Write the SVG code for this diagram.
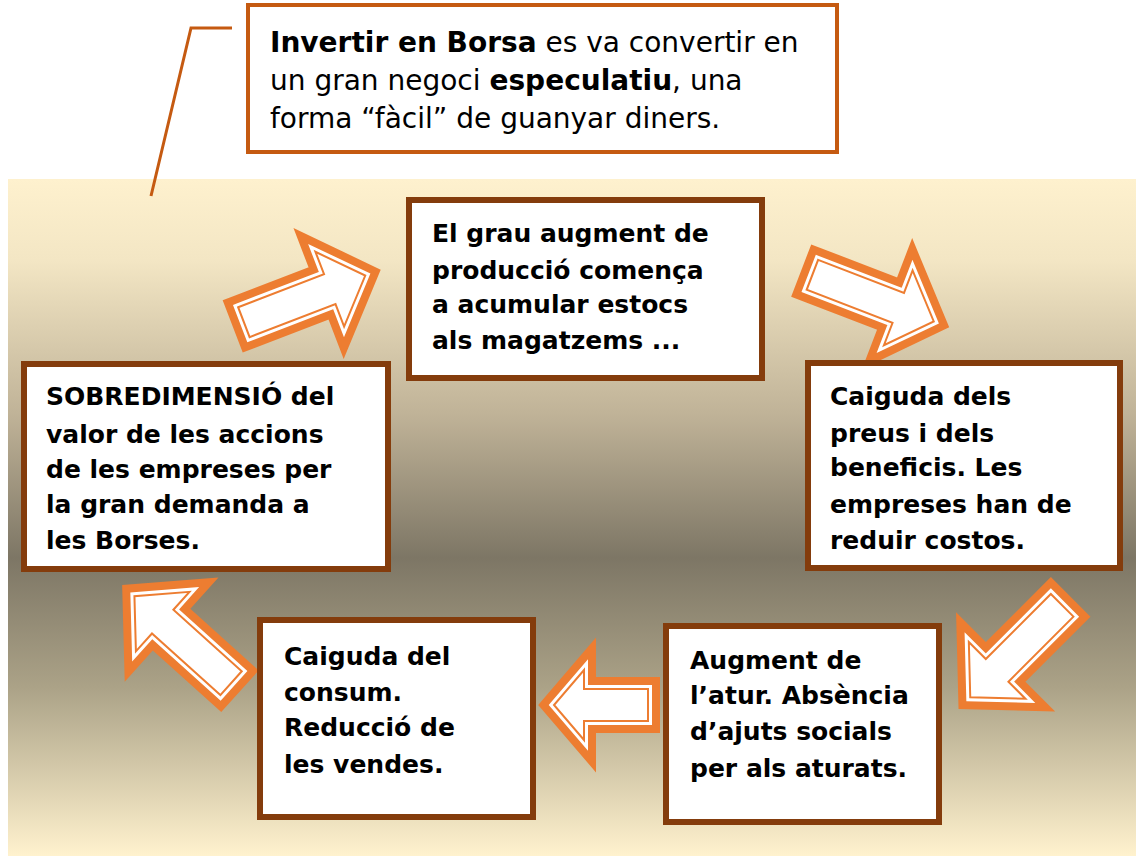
<svg xmlns="http://www.w3.org/2000/svg" width="1136" height="856" viewBox="0 0 1136 856">
  <defs>
    <linearGradient id="bg" x1="0" y1="0" x2="0" y2="1">
      <stop offset="0" stop-color="#FEF1CE"/>
      <stop offset="0.12" stop-color="#F3E6C4"/>
      <stop offset="0.35" stop-color="#BFB297"/>
      <stop offset="0.56" stop-color="#7D7665"/>
      <stop offset="0.75" stop-color="#ABA287"/>
      <stop offset="1" stop-color="#FFF2CE"/>
    </linearGradient>
    <path id="arD" d="M-66,-16 L26,-16 L26,-40 L64,0 L26,40 L26,16 L-66,16 Z"/>
    <path id="arH" d="M-48,-16 L16,-16 L16,-35 L46,0 L16,35 L16,16 L-48,16 Z"/>
  </defs>
  <style>
    .box { fill: #FFFFFF; stroke: #843C0C; stroke-width: 6; }
    .callout { fill: #FFFFFF; stroke: #C55A11; stroke-width: 4; }
    .t { font-family: "DejaVu Sans", "Liberation Sans", sans-serif; font-size: 25px; font-weight: bold; fill: #000000; }
    .c { font-family: "DejaVu Sans", "Liberation Sans", sans-serif; font-size: 28px; fill: #000000; }
    .b { font-weight: bold; }
    .a1 { fill: none; stroke: #ED7D31; stroke-width: 24; stroke-linejoin: miter; stroke-miterlimit: 10; }
    .a2 { fill: #FFFFFF; stroke: #FFFFFF; stroke-width: 8; stroke-linejoin: miter; stroke-miterlimit: 10; }
    .a3 { fill: none; stroke: #ED7D31; stroke-width: 2; stroke-linejoin: miter; }
  </style>

  <rect x="8" y="179" width="1128" height="677" fill="url(#bg)"/>

  <g id="connectors">
    <polyline points="151,196 191,28 232,28" fill="none" stroke="#C55A11" stroke-width="3"/>
    <g transform="translate(305.5,298.5) rotate(-21)">
      <use href="#arD" class="a1"/><use href="#arD" class="a2"/><use href="#arD" class="a3"/>
    </g>
    <g transform="translate(874,298.5) rotate(21)">
      <use href="#arD" class="a1"/><use href="#arD" class="a2"/><use href="#arD" class="a3"/>
    </g>
    <g transform="translate(1015.5,652) rotate(135)">
      <use href="#arD" class="a1"/><use href="#arD" class="a2"/><use href="#arD" class="a3"/>
    </g>
    <g transform="translate(600,705) rotate(180)">
      <use href="#arH" class="a1"/><use href="#arH" class="a2"/><use href="#arH" class="a3"/>
    </g>
    <g transform="translate(182,639) rotate(222)">
      <use href="#arD" class="a1"/><use href="#arD" class="a2"/><use href="#arD" class="a3"/>
    </g>
  </g>

  <g id="callout">
    <rect class="callout" x="248" y="5" width="589" height="147"/>
    <text class="c" x="270" y="52"><tspan class="b">Invertir en Borsa</tspan> es va convertir en</text>
    <text class="c" x="270" y="90">un gran negoci <tspan class="b">especulatiu</tspan>, una</text>
    <text class="c" x="270" y="128">forma “fàcil” de guanyar diners.</text>
  </g>

  <g id="node-top">
    <rect class="box" x="409" y="200" width="353" height="178"/>
    <text class="t" x="432" y="242">El grau augment de</text>
    <text class="t" x="432" y="279">producció comença</text>
    <text class="t" x="432" y="313">a acumular estocs</text>
    <text class="t" x="432" y="349">als magatzems ...</text>
  </g>

  <g id="node-right">
    <rect class="box" x="808" y="363" width="312" height="205"/>
    <text class="t" x="830" y="405">Caiguda dels</text>
    <text class="t" x="830" y="442">preus i dels</text>
    <text class="t" x="830" y="476">beneficis. Les</text>
    <text class="t" x="830" y="513">empreses han de</text>
    <text class="t" x="830" y="549">reduir costos.</text>
  </g>

  <g id="node-bottom-right">
    <rect class="box" x="666" y="626" width="273" height="196"/>
    <text class="t" x="690" y="669">Augment de</text>
    <text class="t" x="690" y="704">l’atur. Absència</text>
    <text class="t" x="690" y="740">d’ajuts socials</text>
    <text class="t" x="690" y="777">per als aturats.</text>
  </g>

  <g id="node-bottom-left">
    <rect class="box" x="260" y="620" width="273" height="197"/>
    <text class="t" x="284" y="665">Caiguda del</text>
    <text class="t" x="284" y="701">consum.</text>
    <text class="t" x="284" y="736">Reducció de</text>
    <text class="t" x="284" y="773">les vendes.</text>
  </g>

  <g id="node-left">
    <rect class="box" x="24" y="364" width="364" height="205"/>
    <text class="t" x="46" y="405">SOBREDIMENSIÓ del</text>
    <text class="t" x="46" y="443">valor de les accions</text>
    <text class="t" x="46" y="478">de les empreses per</text>
    <text class="t" x="46" y="513">la gran demanda a</text>
    <text class="t" x="46" y="549">les Borses.</text>
  </g>
</svg>
